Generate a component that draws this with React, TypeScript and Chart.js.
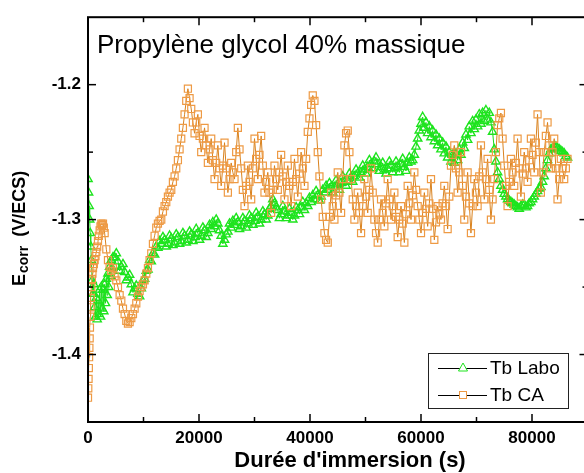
import React, { useEffect, useRef } from "react";
import { Chart, registerables } from "chart.js";

Chart.register(...registerables);

const FONT = '"Liberation Sans", Arial, sans-serif';
const PLOT_TITLE = "Propylène glycol 40% massique";
const X_TITLE = "Durée d'immersion (s)";
const SERIES_NAMES = ["Tb Labo", "Tb CA"];

const X_TICKS = [0, 20000, 40000, 60000, 80000];
const X_MINOR = [10000, 30000, 50000, 70000];
const Y_TICKS = [-1.4, -1.3, -1.2];
const Y_MINOR = [-1.35, -1.25];

// Tb Labo (green triangles)
const LABO_EARLY_T = [0, 100, 200, 300, 400, 500, 600, 750, 900, 1050, 1200, 1350, 1500, 1650, 1800, 1950, 2100, 2250, 2400, 2550, 2700, 2850, 3000, 3150, 3300, 3450, 3600, 3750, 3900, 4050, 4200, 4350, 4500];
const LABO_EARLY_V = [-1.27, -1.28, -1.29, -1.3, -1.31, -1.32, -1.33, -1.345, -1.355, -1.348, -1.365, -1.372, -1.358, -1.374, -1.36, -1.37, -1.352, -1.372, -1.35, -1.366, -1.352, -1.368, -1.348, -1.362, -1.344, -1.356, -1.34, -1.35, -1.335, -1.342, -1.33, -1.336, -1.328];
const LABO_START = 4800;
const LABO_STEP = 300;
const LABO_V = [
  -1.328, -1.325, -1.331, -1.338, -1.335, -1.333, -1.339, -1.345, -1.343, -1.341,
  -1.348, -1.354, -1.351, -1.349, -1.355, -1.357, -1.351, -1.345, -1.344, -1.338,
  -1.337, -1.33, -1.331, -1.325, -1.326, -1.32, -1.321, -1.316, -1.318, -1.313,
  -1.315, -1.32, -1.318, -1.312, -1.314, -1.319, -1.317, -1.311, -1.313, -1.318,
  -1.316, -1.31, -1.312, -1.317, -1.315, -1.309, -1.311, -1.316, -1.313, -1.307,
  -1.31, -1.315, -1.312, -1.306, -1.308, -1.313, -1.31, -1.304, -1.307, -1.302,
  -1.305, -1.3, -1.303, -1.308, -1.312, -1.318, -1.315, -1.311, -1.309, -1.303,
  -1.306, -1.301, -1.304, -1.299, -1.302, -1.307, -1.305, -1.299, -1.301, -1.306,
  -1.303, -1.297, -1.299, -1.304, -1.301, -1.295, -1.298, -1.303, -1.3, -1.294,
  -1.296, -1.3, -1.297, -1.292, -1.29, -1.285, -1.288, -1.291, -1.293, -1.299,
  -1.296, -1.29, -1.294, -1.299, -1.297, -1.292, -1.295, -1.3, -1.297, -1.291,
  -1.293, -1.296, -1.291, -1.287, -1.293, -1.288, -1.29, -1.284, -1.287, -1.282,
  -1.285, -1.279, -1.282, -1.286, -1.283, -1.278, -1.28, -1.275, -1.278, -1.273,
  -1.276, -1.28, -1.276, -1.271, -1.274, -1.278, -1.273, -1.268, -1.272, -1.275,
  -1.271, -1.266, -1.269, -1.272, -1.268, -1.263, -1.266, -1.269, -1.265, -1.26,
  -1.263, -1.266, -1.261, -1.256, -1.259, -1.262, -1.257, -1.254, -1.259, -1.264,
  -1.261, -1.258, -1.263, -1.266, -1.262, -1.257, -1.26, -1.265, -1.262, -1.257,
  -1.261, -1.265, -1.259, -1.255, -1.261, -1.264, -1.258, -1.254, -1.257, -1.256,
  -1.252, -1.246, -1.24, -1.234, -1.229, -1.224, -1.232, -1.228, -1.236, -1.231,
  -1.239, -1.234, -1.242, -1.237, -1.245, -1.24, -1.248, -1.243, -1.251, -1.246,
  -1.254, -1.25, -1.257, -1.252, -1.258, -1.251, -1.256, -1.248, -1.252, -1.243,
  -1.247, -1.237, -1.241, -1.231, -1.236, -1.227, -1.233, -1.226, -1.231, -1.222,
  -1.229, -1.221, -1.227, -1.219, -1.226, -1.221, -1.228, -1.235, -1.248, -1.257,
  -1.265, -1.27, -1.275, -1.278, -1.281, -1.283, -1.285, -1.286, -1.287, -1.288,
  -1.289, -1.29, -1.291, -1.292, -1.29, -1.289, -1.289, -1.291, -1.29, -1.288,
  -1.287, -1.285, -1.283, -1.281, -1.279, -1.277, -1.276, -1.272, -1.268, -1.262,
  -1.256, -1.251, -1.248, -1.247, -1.246, -1.246, -1.247, -1.248, -1.249, -1.25,
  -1.251, -1.253, -1.254,
];

// Tb CA (orange squares)
const CA_EARLY_T = [0, 50, 100, 150, 200, 250, 300, 350, 400, 450, 500, 600, 700, 800, 900, 1050, 1200, 1350, 1500, 1650, 1800, 1950, 2100, 2250, 2400, 2550, 2700, 2850];
const CA_EARLY_V = [-1.432, -1.425, -1.418, -1.41, -1.402, -1.395, -1.388, -1.38, -1.372, -1.365, -1.358, -1.35, -1.344, -1.34, -1.336, -1.333, -1.33, -1.327, -1.324, -1.32, -1.316, -1.312, -1.308, -1.305, -1.303, -1.304, -1.303, -1.306];
const CA_START = 3000;
const CA_STEP = 300;
const CA_V = [
  -1.31, -1.322, -1.33, -1.335, -1.338, -1.336, -1.342, -1.345, -1.35, -1.356,
  -1.36, -1.366, -1.37, -1.375, -1.377, -1.376, -1.373, -1.37, -1.366, -1.362,
  -1.357, -1.353, -1.35, -1.348, -1.345, -1.34, -1.336, -1.33, -1.325, -1.318,
  -1.312, -1.306, -1.303, -1.301, -1.3, -1.294, -1.29, -1.287, -1.283, -1.28,
  -1.278, -1.272, -1.268, -1.262, -1.256, -1.248, -1.24, -1.232, -1.222, -1.212,
  -1.203, -1.21, -1.218, -1.228, -1.236, -1.228, -1.222, -1.238, -1.25, -1.24,
  -1.232, -1.245, -1.258, -1.248, -1.24, -1.256, -1.27, -1.258, -1.245, -1.262,
  -1.275, -1.26, -1.243, -1.262, -1.28, -1.27, -1.258, -1.265, -1.27, -1.25,
  -1.232, -1.248, -1.262, -1.278, -1.29, -1.275, -1.26, -1.272, -1.285, -1.262,
  -1.24, -1.255, -1.27, -1.252, -1.238, -1.26, -1.28, -1.272, -1.265, -1.28,
  -1.295, -1.278, -1.26, -1.27, -1.278, -1.265, -1.252, -1.268, -1.285, -1.272,
  -1.26, -1.275, -1.29, -1.272, -1.255, -1.27, -1.283, -1.266, -1.25, -1.262,
  -1.275, -1.255, -1.235, -1.225, -1.215, -1.208, -1.212, -1.23, -1.25, -1.268,
  -1.285, -1.298, -1.31, -1.315, -1.317, -1.298, -1.28, -1.29, -1.3, -1.282,
  -1.265, -1.28, -1.295, -1.27, -1.245, -1.236, -1.234, -1.25, -1.27, -1.285,
  -1.3, -1.29, -1.28, -1.295, -1.31, -1.29, -1.27, -1.283, -1.295, -1.278,
  -1.262, -1.28, -1.3, -1.31, -1.317, -1.3, -1.285, -1.295, -1.305, -1.288,
  -1.27, -1.285, -1.3, -1.29, -1.28, -1.298, -1.313, -1.3, -1.29, -1.303,
  -1.317, -1.296, -1.275, -1.288, -1.3, -1.282, -1.265, -1.278, -1.29, -1.3,
  -1.31, -1.295, -1.28, -1.292, -1.305, -1.288, -1.27, -1.292, -1.315, -1.302,
  -1.29, -1.296, -1.3, -1.288, -1.275, -1.29, -1.307, -1.283, -1.26, -1.252,
  -1.245, -1.262, -1.28, -1.265, -1.25, -1.275, -1.3, -1.283, -1.265, -1.288,
  -1.31, -1.29, -1.27, -1.28, -1.29, -1.268, -1.245, -1.265, -1.285, -1.27,
  -1.255, -1.278, -1.3, -1.285, -1.27, -1.25, -1.23, -1.225, -1.221, -1.24,
  -1.26, -1.275, -1.29, -1.272, -1.255, -1.265, -1.275, -1.258, -1.24, -1.262,
  -1.283, -1.266, -1.25, -1.262, -1.272, -1.256, -1.24, -1.252, -1.265, -1.243,
  -1.222, -1.25, -1.28, -1.265, -1.25, -1.238, -1.228, -1.245, -1.262, -1.25,
  -1.24, -1.262, -1.285, -1.27, -1.255, -1.262, -1.27, -1.262, -1.255,
];

const GREEN = "#1EE41E";
const GREEN_LINE = "#1ED81E";
const ORANGE = "#EE9A44";
const ORANGE_LINE = "#D9821E";

function buildPoints(earlyT: number[], earlyV: number[], start: number, step: number, vals: number[]) {
  const pts = earlyT.map((t, i) => ({ x: t, y: earlyV[i] }));
  vals.forEach((v, i) => pts.push({ x: start + i * step, y: v }));
  return pts;
}

const decorPlugin = {
  id: "decor",
  afterDraw(chart: any) {
    const { ctx, chartArea: a, scales } = chart;
    const xs = scales.x;
    const ys = scales.y;
    ctx.save();
    ctx.strokeStyle = "#000";
    ctx.lineWidth = 2;
    ctx.strokeRect(a.left, a.top, a.right - a.left, a.bottom - a.top);
    ctx.lineWidth = 1.5;
    const seg = (x1: number, y1: number, x2: number, y2: number) => {
      ctx.beginPath();
      ctx.moveTo(x1, y1);
      ctx.lineTo(x2, y2);
      ctx.stroke();
    };
    X_TICKS.forEach((v) => {
      const p = xs.getPixelForValue(v);
      seg(p, a.bottom, p, a.bottom - 8);
      seg(p, a.top, p, a.top + 8);
    });
    X_MINOR.forEach((v) => {
      const p = xs.getPixelForValue(v);
      seg(p, a.bottom, p, a.bottom - 5);
      seg(p, a.top, p, a.top + 5);
    });
    Y_TICKS.forEach((v) => {
      const p = ys.getPixelForValue(v);
      seg(a.left, p, a.left + 8, p);
      seg(a.right, p, a.right - 8, p);
    });
    Y_MINOR.forEach((v) => {
      const p = ys.getPixelForValue(v);
      seg(a.left, p, a.left + 5, p);
      seg(a.right, p, a.right - 5, p);
    });

    ctx.fillStyle = "#000";
    ctx.font = `26px ${FONT}`;
    ctx.textAlign = "left";
    ctx.textBaseline = "alphabetic";
    ctx.fillText(PLOT_TITLE, 97, 53);

    ctx.font = `bold 22px ${FONT}`;
    ctx.textAlign = "center";
    ctx.fillText(X_TITLE, 350, 467);

    ctx.save();
    ctx.translate(25, 286);
    ctx.rotate(-Math.PI / 2);
    ctx.textAlign = "left";
    ctx.font = `bold 18px ${FONT}`;
    ctx.fillText("E", 0, 0);
    const wE = ctx.measureText("E").width;
    ctx.font = `bold 14px ${FONT}`;
    ctx.fillText("corr", wE + 1, 3);
    const wSub = ctx.measureText("corr").width;
    ctx.font = `bold 18px ${FONT}`;
    ctx.fillText("(V/ECS)", wE + 1 + wSub + 9, 0);
    ctx.restore();

    const lx = 428, ly = 353, lw = 140, lh = 55;
    ctx.fillStyle = "#fff";
    ctx.fillRect(lx, ly, lw, lh);
    ctx.lineWidth = 1;
    ctx.strokeStyle = "#222";
    ctx.strokeRect(lx + 0.5, ly + 0.5, lw, lh);
    const rows = [368, 395];
    rows.forEach((ry, i) => {
      ctx.strokeStyle = "#000";
      ctx.lineWidth = 1;
      seg(438, ry + 0.5, 487, ry + 0.5);
      ctx.fillStyle = "#fff";
      if (i === 0) {
        ctx.strokeStyle = GREEN;
        ctx.beginPath();
        ctx.moveTo(463, ry - 5);
        ctx.lineTo(467.5, ry + 3);
        ctx.lineTo(458.5, ry + 3);
        ctx.closePath();
        ctx.fill();
        ctx.stroke();
      } else {
        ctx.strokeStyle = ORANGE;
        ctx.fillRect(459.5, ry - 3.5, 7, 7);
        ctx.strokeRect(459.5, ry - 3.5, 7, 7);
      }
      ctx.fillStyle = "#000";
      ctx.font = `19px ${FONT}`;
      ctx.textAlign = "left";
      ctx.textBaseline = "middle";
      ctx.fillText(SERIES_NAMES[i], 490, ry + 1);
    });
    ctx.restore();
  },
};

export default function App() {
  const ref = useRef<HTMLCanvasElement>(null);
  useEffect(() => {
    const canvas = ref.current;
    if (!canvas) return;
    const labo = buildPoints(LABO_EARLY_T, LABO_EARLY_V, LABO_START, LABO_STEP, LABO_V);
    const ca = buildPoints(CA_EARLY_T, CA_EARLY_V, CA_START, CA_STEP, CA_V);
    const tickFont = { family: FONT, size: 17, weight: "bold" as const };
    const chart = new Chart(canvas, {
      type: "line",
      data: {
        datasets: [
          {
            label: SERIES_NAMES[0],
            data: labo,
            borderColor: GREEN_LINE,
            borderWidth: 1,
            pointStyle: "triangle",
            pointRadius: 4.8,
            pointBorderColor: GREEN,
            pointBackgroundColor: "rgba(0,0,0,0)",
            pointBorderWidth: 1.4,
            tension: 0,
            order: 2,
          },
          {
            label: SERIES_NAMES[1],
            data: ca,
            borderColor: ORANGE_LINE,
            borderWidth: 1,
            pointStyle: "rect",
            pointRadius: 5,
            pointBorderColor: ORANGE,
            pointBackgroundColor: "rgba(0,0,0,0)",
            pointBorderWidth: 1.2,
            tension: 0,
            order: 1,
          },
        ],
      },
      options: {
        responsive: false,
        animation: false,
        events: [],
        layout: { padding: { top: 15, right: 12.5, left: 0, bottom: 0 } },
        plugins: {
          legend: { display: false },
          tooltip: { enabled: false },
          title: { display: false },
        },
        scales: {
          x: {
            type: "linear",
            min: 0,
            max: 90000,
            grid: { display: false, drawTicks: false },
            border: { display: false },
            afterBuildTicks: (s: any) => {
              s.ticks = X_TICKS.map((v) => ({ value: v }));
            },
            afterFit: (s: any) => {
              s.height = 51;
            },
            ticks: {
              font: tickFont,
              color: "#000",
              padding: 6,
              maxRotation: 0,
              autoSkip: false,
              callback: (v: any) => String(v),
            },
          },
          y: {
            type: "linear",
            min: -1.45,
            max: -1.15,
            grid: { display: false, drawTicks: false },
            border: { display: false },
            afterBuildTicks: (s: any) => {
              s.ticks = Y_TICKS.map((v) => ({ value: v }));
            },
            afterFit: (s: any) => {
              s.width = 88;
            },
            ticks: {
              font: tickFont,
              color: "#000",
              padding: 7,
              autoSkip: false,
              callback: (v: any) => Number(v).toFixed(1),
            },
          },
        },
      },
      plugins: [decorPlugin],
    });
    return () => chart.destroy();
  }, []);
  return (
    <div
      style={{
        position: "fixed",
        left: 0,
        top: 0,
        width: 584,
        height: 473,
        overflow: "hidden",
        background: "#fff",
      }}
    >
      <canvas ref={ref} width={600} height={473} style={{ display: "block", width: 600, height: 473 }} />
    </div>
  );
}
